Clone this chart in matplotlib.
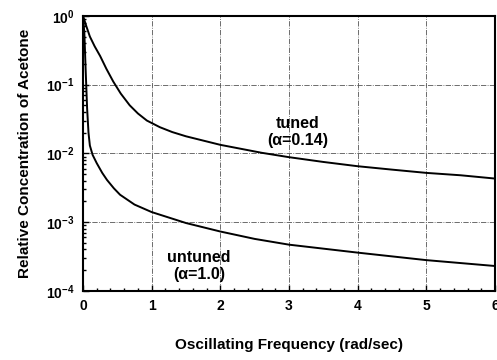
import matplotlib
matplotlib.use("Agg")
import matplotlib.pyplot as plt
from matplotlib.ticker import MultipleLocator, LogLocator, NullFormatter

# -----------------------------
# data
# -----------------------------
tuned_x = [0, 0.05, 0.1, 0.17, 0.25, 0.34, 0.44, 0.55, 0.68, 0.8, 0.93, 1.12, 1.3, 1.5, 2.0, 2.6, 3.0, 3.5, 4.0, 4.5, 5.0, 5.5, 6.0]
tuned_y = [1.0, 0.7, 0.50, 0.36, 0.26, 0.17, 0.111, 0.074, 0.050, 0.038, 0.030, 0.024, 0.0204, 0.0177, 0.0133, 0.0102, 0.0088, 0.0075, 0.0065, 0.0058, 0.0052, 0.0048, 0.0043]

untuned_x = [0, 0.02, 0.04, 0.06, 0.08, 0.1, 0.14, 0.2, 0.28, 0.35, 0.45, 0.54, 0.75, 1.0, 1.5, 2.0, 2.5, 3.0, 4.0, 5.0, 6.0]
untuned_y = [1.0, 0.55, 0.15, 0.045, 0.02, 0.013, 0.0095, 0.0072, 0.0052, 0.0041, 0.0031, 0.0025, 0.0018, 0.0014, 0.00097, 0.00073, 0.00057, 0.00047, 0.00036, 0.00028, 0.00023]

tuned_label = "tuned\n(\u03b1=0.14)"
untuned_label = "untuned\n(\u03b1=1.0)"

plt.rcParams["font.family"] = ["Liberation Sans", "DejaVu Sans"]
plt.rcParams["font.weight"] = "bold"
plt.rcParams["mathtext.default"] = "bf"

fig = plt.figure(figsize=(4.97, 3.6), dpi=100)
ax = fig.add_axes([0.167, 0.192, 0.829, 0.764])

ax.plot(tuned_x, tuned_y, color="black", lw=1.4)
ax.plot(untuned_x, untuned_y, color="black", lw=1.4)

ax.set_yscale("log")
ax.set_xlim(0, 6)
ax.set_ylim(1e-4, 1)
ax.xaxis.set_major_locator(MultipleLocator(1))
ax.xaxis.set_minor_locator(MultipleLocator(0.2))
ax.yaxis.set_major_locator(LogLocator(base=10, numticks=10))
ax.yaxis.set_minor_locator(LogLocator(base=10, subs=range(2, 10), numticks=20))
ax.yaxis.set_minor_formatter(NullFormatter())

ax.grid(True, which="major", color="#555555", linestyle="-.", lw=0.6)
ax.tick_params(which="both", direction="in", labelsize=10, width=1)
ax.tick_params(which="major", length=4, pad=6)
ax.tick_params(which="minor", length=2.5)
for lab in ax.get_xticklabels() + ax.get_yticklabels():
    lab.set_fontweight("bold")
for sp in ax.spines.values():
    sp.set_linewidth(1.5)

ax.set_xlabel("Oscillating Frequency (rad/sec)", fontsize=11, fontweight="bold", labelpad=18)
ax.set_ylabel("Relative Concentration of Acetone", fontsize=11, fontweight="bold", labelpad=10)

ax.text(3.13, 0.0205, tuned_label, ha="center", va="center", fontsize=11.5, fontweight="bold", linespacing=1.1)
ax.text(1.69, 0.00023, untuned_label, ha="center", va="center", fontsize=11.5, fontweight="bold", linespacing=1.1)

fig.savefig("out.png", dpi=100)
